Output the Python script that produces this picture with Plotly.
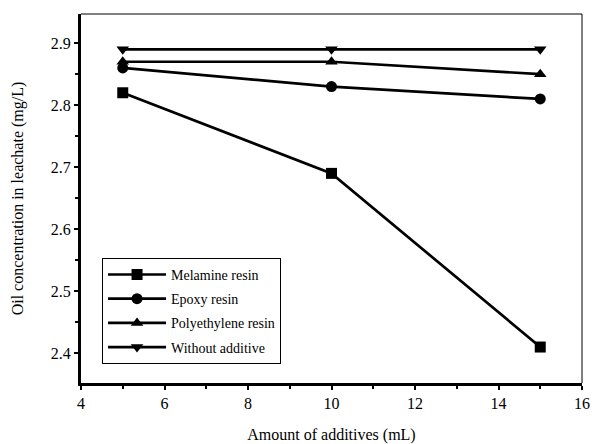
import plotly.graph_objects as go

x_vals = [5, 10, 15]
melamine = [2.82, 2.69, 2.41]
epoxy = [2.86, 2.83, 2.81]
polyethylene = [2.87, 2.87, 2.85]
without = [2.89, 2.89, 2.89]

series = [
    ("Melamine resin", melamine, "square"),
    ("Epoxy resin", epoxy, "circle"),
    ("Polyethylene resin", polyethylene, "triangle-up"),
    ("Without additive", without, "triangle-down"),
]

x_ticks = [4, 6, 8, 10, 12, 14, 16]
y_ticks = [2.4, 2.5, 2.6, 2.7, 2.8, 2.9]

FONT = "Liberation Serif"

fig = go.Figure()
for i, (name, vals, sym) in enumerate(series):
    fig.add_trace(go.Scatter(
        x=x_vals, y=vals, name=name, mode="lines+markers",
        line=dict(color="black", width=2.7),
        marker=dict(symbol=sym, size=11, color="black"),
        legendgroup="g%d" % i,
    ))

fig.update_layout(
    width=596, height=444,
    margin=dict(l=81, r=14, t=14, b=61, autoexpand=False),
    paper_bgcolor="white", plot_bgcolor="white",
    font=dict(family=FONT, size=16, color="black"),
    showlegend=True,
    legend=dict(
        x=0.042, y=0.339, xanchor="left", yanchor="top",
        bordercolor="black", borderwidth=1, bgcolor="white",
        font=dict(family=FONT, size=14, color="black"),
        itemwidth=58, tracegroupgap=3,
    ),
    xaxis=dict(
        range=[4, 16], tickvals=x_ticks, ticktext=[str(v) for v in x_ticks],
        automargin=False, ticklabeloverflow="allow",
        showgrid=False, zeroline=False,
        showline=True, linecolor="black", linewidth=3,
        ticks="outside", ticklen=4, tickwidth=2, tickcolor="black",
        tickfont=dict(family=FONT, size=16),
        minor=dict(dtick=1, ticks="outside", ticklen=3, tickwidth=1.5, tickcolor="black"),
        title=dict(text="Amount of additives (mL)", standoff=21,
                   font=dict(family=FONT, size=16)),
    ),
    yaxis=dict(
        range=[2.352, 2.947], tickvals=y_ticks, ticktext=[f"{v:.1f}" for v in y_ticks],
        automargin=False,
        showgrid=False, zeroline=False,
        showline=True, linecolor="black", linewidth=3,
        ticks="outside", ticklen=4, tickwidth=2, tickcolor="black",
        tickfont=dict(family=FONT, size=16),
        minor=dict(dtick=0.05, ticks="outside", ticklen=3, tickwidth=1.5, tickcolor="black"),
        title=dict(text="Oil concentration in leachate (mg/L)", standoff=24,
                   font=dict(family=FONT, size=16)),
    ),
    shapes=[
        dict(type="line", xref="paper", yref="paper", x0=0, x1=1, y0=1, y1=1,
             line=dict(color="black", width=1)),
        dict(type="line", xref="paper", yref="paper", x0=1, x1=1, y0=0, y1=1,
             line=dict(color="black", width=1)),
    ],
)

fig.write_html(
    "out.html",
    config={"displayModeBar": False},
    post_script="document.body.style.margin='0';document.body.style.overflow='hidden';",
)
